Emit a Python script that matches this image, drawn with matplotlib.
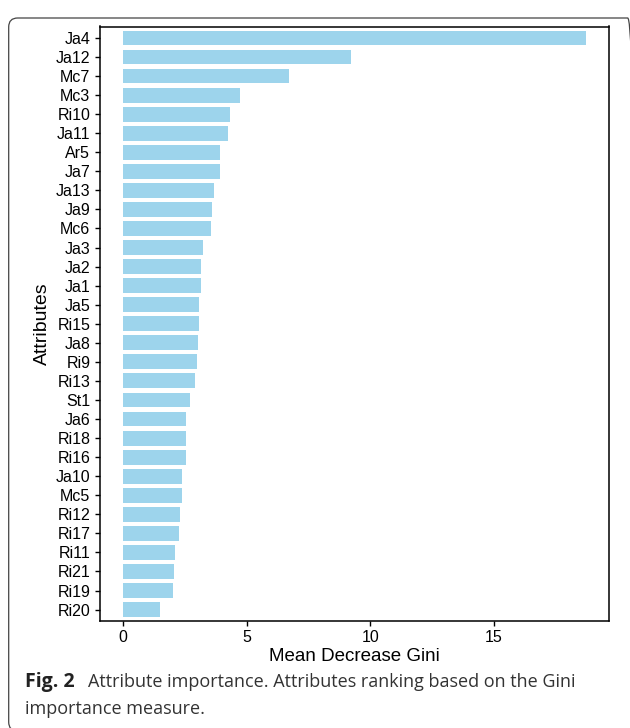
import numpy as np
import matplotlib
matplotlib.use("Agg")
import matplotlib.pyplot as plt
from matplotlib.patches import FancyBboxPatch

# データ (上から順)
attributes = ["Ja4", "Ja12", "Mc7", "Mc3", "Ri10", "Ja11", "Ar5", "Ja7", "Ja13", "Ja9",
              "Mc6", "Ja3", "Ja2", "Ja1", "Ja5", "Ri15", "Ja8", "Ri9", "Ri13", "St1",
              "Ja6", "Ri18", "Ri16", "Ja10", "Mc5", "Ri12", "Ri17", "Ri11", "Ri21", "Ri19",
              "Ri20"]
gini = [18.71, 9.23, 6.69, 4.72, 4.31, 4.23, 3.91, 3.91, 3.67, 3.59,
        3.55, 3.23, 3.15, 3.15, 3.06, 3.06, 3.02, 2.98, 2.90, 2.70,
        2.54, 2.54, 2.54, 2.38, 2.38, 2.30, 2.26, 2.10, 2.06, 2.02,
        1.49]
xticks = [0, 5, 10, 15]

plt.rcParams['font.family'] = ['Liberation Sans', 'DejaVu Sans']

W, H = 630, 728
fig = plt.figure(figsize=(W / 100, H / 100), dpi=100)
ax = fig.add_axes([100 / W, 1 - 621 / H, 509 / W, (621 - 26.5) / H])

y = np.arange(len(attributes))[::-1]
ax.barh(y, gini, height=0.78, color="#9dd4ec")

xmax = max(gini)
ax.set_xlim(-0.05 * xmax, 1.05 * xmax)
ax.set_ylim(-0.6, len(attributes) - 1 + 0.6)
ax.set_yticks(y)
ax.set_yticklabels(attributes)
ax.set_xticks(xticks)
ax.tick_params(axis="both", labelsize=11.5, length=3.6, width=1.0, color="black", labelcolor="black")
ax.tick_params(axis="y", pad=3.4)
ax.tick_params(axis="x", pad=3)
for s in ax.spines.values():
    s.set_linewidth(1.1)
    s.set_color("black")

ax.set_xlabel("Mean Decrease Gini", fontsize=13.5)
ax.set_ylabel("Attributes", fontsize=14)
ax.xaxis.set_label_coords(0.5, -0.045)
ax.yaxis.set_label_coords(-0.096, 0.5)

# 枠線 (角丸) 右端と下端は画像の外へ
frame = FancyBboxPatch((0.087, -0.03), 6.28, 7.13,
                       boxstyle="round,pad=0,rounding_size=0.09",
                       transform=fig.dpi_scale_trans, fill=False,
                       edgecolor="#444444", linewidth=0.9)
fig.patches.append(frame)

# キャプション
cap_font = ['Open Sans', 'DejaVu Sans']
t = fig.text(25 / W, 1 - 687 / H, "Fig. 2", fontsize=14, fontweight="bold",
             family=cap_font, color="#222222", va="baseline")
fig.canvas.draw()
bb = t.get_window_extent().transformed(fig.transFigure.inverted())
fig.text(bb.x1 + 13 / W, 1 - 687 / H,
         "Attribute importance. Attributes ranking based on the Gini",
         fontsize=13, family=cap_font, color="#333333", va="baseline")
fig.text(25 / W, 1 - 714 / H, "importance measure.", fontsize=13,
         family=cap_font, color="#333333", va="baseline")

fig.savefig("out.png", dpi=100)
